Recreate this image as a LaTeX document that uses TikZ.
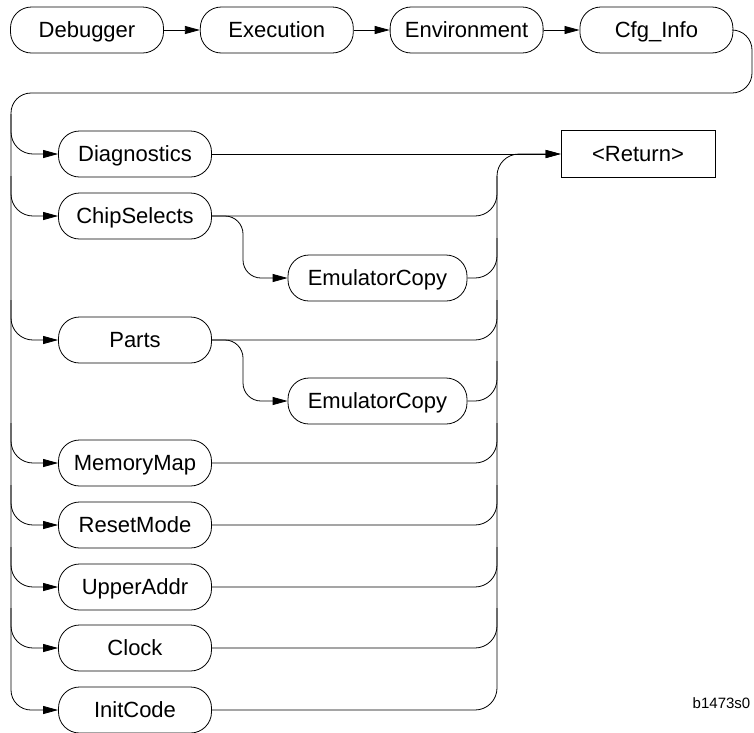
\documentclass[tikz,border=0pt]{standalone}
\usepackage{fontspec}
\setmainfont{Liberation Sans}
\usetikzlibrary{arrows.meta, positioning}

\begin{document}
\begin{tikzpicture}[x=1pt, y=-1pt, line width=0.8pt,
    every node/.style={font=\fontsize{22}{26}\selectfont}]
        \tikzset{cmdbox/.style={draw, rounded corners=21pt,
                 minimum width=153pt, minimum height=46pt, inner sep=0pt,
                 text height=16pt, text depth=0.5pt},
                 flow/.style={-{Triangle[length=15pt, width=8pt]}}}
        \useasboundingbox (0,0) rectangle (754,732);

        \node[cmdbox]                    (dbg) at (87,30) {Debugger};
        \node[cmdbox, right=36pt of dbg] (exe) {Execution};
        \node[cmdbox, right=36pt of exe] (env) {Environment};
        \node[cmdbox, right=36pt of env] (cfg) {Cfg\_Info};
        \draw[flow] (dbg.east) -- (exe.west);
        \draw[flow] (exe.east) -- (env.west);
        \draw[flow] (env.east) -- (cfg.west);

        \node[draw, minimum width=154pt, minimum height=47pt,
              text height=16pt, text depth=0.5pt] (ret) at (638,154) {<Return>};

        \foreach \name/\txt/\y in {diag/Diagnostics/154, cs/ChipSelects/216,
            parts/Parts/340, mem/MemoryMap/463, reset/ResetMode/525,
            upper/UpperAddr/587, clock/Clock/648, init/InitCode/710}
          \node[cmdbox] (\name) at (135,\y) {\txt};
        \node[cmdbox, minimum width=179pt] (ec1) at (377.5,278) {EmulatorCopy};
        \node[cmdbox, minimum width=179pt] (ec2) at (377.5,401) {EmulatorCopy};

        % left bus
        \draw[flow, rounded corners=20pt] (cfg.east) -- (752,30) -- (752,93)
          -- (11,93) -- (11,710) -- (init.west);
        \foreach \name/\y in {diag/154, cs/216, parts/340, mem/463,
            reset/525, upper/587, clock/648}
          \draw[flow, rounded corners=22pt] (11,\y-40) |- (\name.west);

        % right bus
        \coordinate (rb) at (497,154);
        \draw[flow, rounded corners=22pt] (init.east) -| (rb) -- (ret.west);
        \draw[flow] (diag.east) -- (ret.west);
        \foreach \name/\y in {cs/216, ec1/278, parts/340, ec2/401, mem/463,
            reset/525, upper/587, clock/648}
          \draw[rounded corners=22pt] (\name.east) -| (497,\y-40);

        \draw[flow, rounded corners=18pt] (cs.east) -- (243,216) -- (243,278) -- (ec1.west);
        \draw[flow, rounded corners=18pt] (parts.east) -- (243,340) -- (243,401) -- (ec2.west);

        \node[anchor=west, font=\fontsize{15}{18}\selectfont] (tag) at (689,703) {b1473s0};
      \end{tikzpicture}
\end{document}
